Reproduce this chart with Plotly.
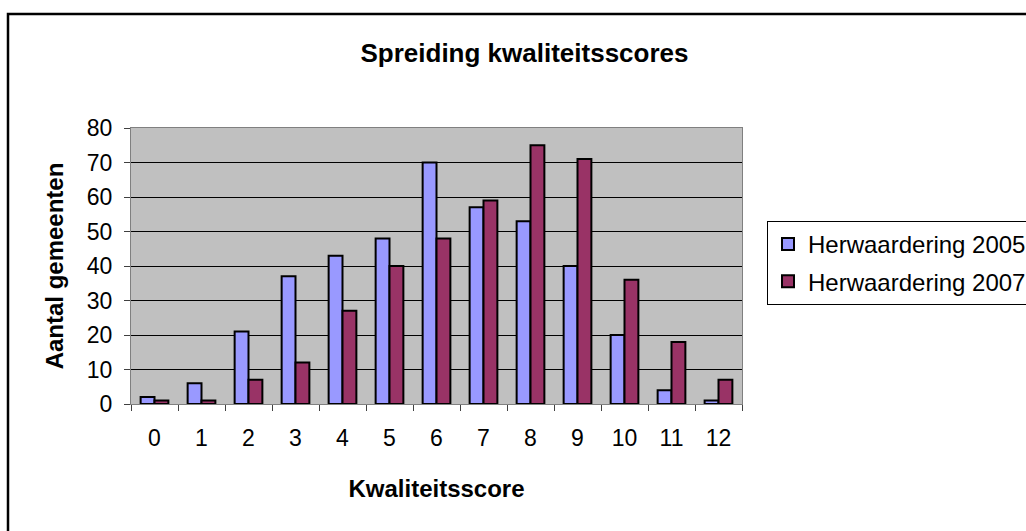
import plotly.graph_objects as go

scores = ["0", "1", "2", "3", "4", "5", "6", "7", "8", "9", "10", "11", "12"]
herw_2005 = [2, 6, 21, 37, 43, 48, 70, 57, 53, 40, 20, 4, 1]
herw_2007 = [1, 1, 7, 12, 27, 40, 48, 59, 75, 71, 36, 18, 7]

FONT = "Liberation Sans, Arial, sans-serif"

W, H = 1026, 531
L, R, T, B = 131, 742, 128, 404  # plot area in pixels
pw, ph = R - L, B - T

def px(x):
    return (x - L) / pw

def py(y):
    return (B - y) / ph

fig = go.Figure()
fig.add_trace(go.Bar(x=scores, y=herw_2005, name="Herwaardering 2005",
                     marker=dict(color="#9999FF", line=dict(color="black", width=2)),
                     legendgroup="a"))
fig.add_trace(go.Bar(x=scores, y=herw_2007, name="Herwaardering 2007",
                     marker=dict(color="#993366", line=dict(color="black", width=2)),
                     legendgroup="b"))

fig.update_layout(
    width=W, height=H,
    margin=dict(l=L, r=W - R, t=T, b=H - B, pad=0, autoexpand=False),
    paper_bgcolor="white",
    plot_bgcolor="#C0C0C0",
    barmode="group",
    bargap=0.41,
    bargroupgap=0,
    font=dict(family=FONT, color="black", size=23),
    title=dict(text="<b>Spreiding kwaliteitsscores</b>", font=dict(size=26, family=FONT),
               x=524.5 / W, xref="container", xanchor="center",
               y=1 - 53 / H, yref="container", yanchor="middle"),
    legend=dict(x=px(767), y=py(221), xanchor="left", yanchor="top",
                bordercolor="black", borderwidth=1, bgcolor="white",
                font=dict(size=24, family=FONT),
                traceorder="grouped", tracegroupgap=3),
    xaxis=dict(type="category", showgrid=False, ticks="outside", tickson="boundaries",
               ticklen=6, tickcolor="#404040", showline=True, linecolor="#808080",
               linewidth=1, mirror=True, ticklabelstandoff=13,
               tickfont=dict(size=23),
               title=dict(text="<b>Kwaliteitsscore</b>", font=dict(size=24), standoff=30)),
    yaxis=dict(range=[0, 80], dtick=10, showgrid=True, gridcolor="black", gridwidth=1,
               zeroline=False, ticks="outside", ticklen=6, tickcolor="#404040",
               showline=True, linecolor="#808080", linewidth=1, mirror=True,
               ticklabelstandoff=7,
               tickfont=dict(size=23),
               title=dict(text="<b>Aantal gemeenten</b>", font=dict(size=24), standoff=16)),
    shapes=[
        dict(type="rect", xref="paper", yref="paper",
             x0=px(8), x1=px(1040), y0=py(14), y1=py(545),
             line=dict(color="black", width=2.5), fillcolor="rgba(0,0,0,0)", layer="below"),
    ],
)

fig.write_html("out.html", config={"displayModeBar": False},
               post_script="document.body.style.margin='0';")
